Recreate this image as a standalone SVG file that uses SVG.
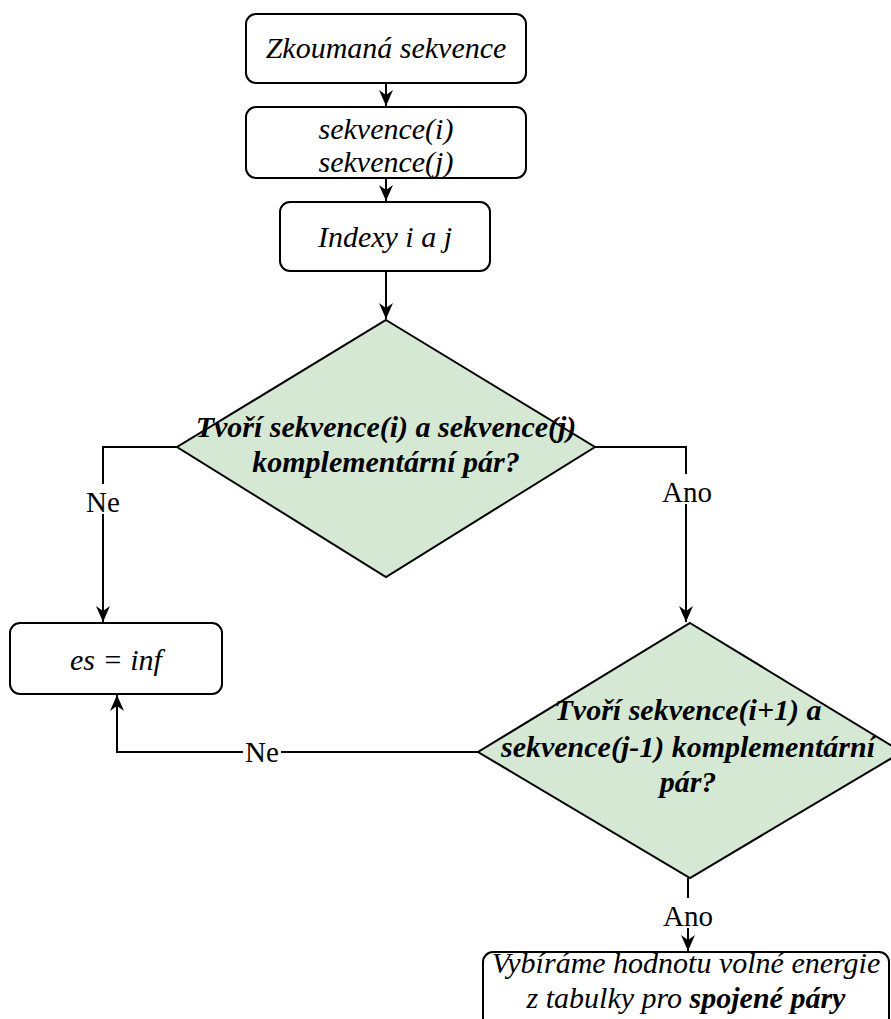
<svg xmlns="http://www.w3.org/2000/svg" width="891" height="1019" viewBox="0 0 891 1019">
<defs>
<style>
.box{fill:#fff;stroke:#000;stroke-width:2}
.dia{fill:#d5e8d4;stroke:#000;stroke-width:2}
.t{font-family:"Liberation Serif","Times New Roman",serif;font-size:30px;font-style:italic;text-anchor:middle;fill:#000}
.b{font-weight:bold}
.lbl{font-family:"Liberation Serif","Times New Roman",serif;font-size:29px;text-anchor:middle;fill:#000}
.c{fill:none;stroke:#000;stroke-width:2}
</style>
<marker id="ah" viewBox="0 0 16 14" refX="16" refY="7" markerWidth="16" markerHeight="14" markerUnits="userSpaceOnUse" orient="auto">
<path d="M0,0 L16,7 L0,14 L5,7 Z" fill="#000"/>
</marker>
</defs>
<rect width="891" height="1019" fill="#fff"/>
<g id="connectors">
<line class="c" x1="386" y1="83" x2="386" y2="106" marker-end="url(#ah)"/>
<line class="c" x1="386" y1="178" x2="386" y2="201" marker-end="url(#ah)"/>
<line class="c" x1="386" y1="271" x2="386" y2="319" marker-end="url(#ah)"/>
<polyline class="c" points="177,447 103,447 103,622" marker-end="url(#ah)"/>
<polyline class="c" points="595,447 686,447 686,622" marker-end="url(#ah)"/>
<polyline class="c" points="478,752 117,752 117,695" marker-end="url(#ah)"/>
<polyline class="c" points="688,878 688,951" marker-end="url(#ah)"/>
<rect x="84" y="484" width="38" height="30" fill="#fff"/>
<text class="lbl" x="103" y="512">Ne</text>
<rect x="662" y="474" width="50" height="30" fill="#fff"/>
<text class="lbl" x="687" y="502">Ano</text>
<rect x="243" y="738" width="38" height="30" fill="#fff"/>
<text class="lbl" x="262" y="762">Ne</text>
<rect x="662" y="898" width="52" height="30" fill="#fff"/>
<text class="lbl" x="688" y="926">Ano</text>
</g>
<g id="n1">
<rect class="box" x="246" y="14" width="280" height="69" rx="10"/>
<text class="t" x="386" y="58">Zkoumaná sekvence</text>
</g>
<g id="n2">
<rect class="box" x="246" y="107" width="280" height="71" rx="10"/>
<text class="t" x="386" y="139">sekvence(i)</text>
<text class="t" x="386" y="172">sekvence(j)</text>
</g>
<g id="n3">
<rect class="box" x="280" y="202" width="210" height="69" rx="10"/>
<text class="t" x="385" y="247">Indexy i a j</text>
</g>
<g id="d1">
<polygon class="dia" points="386,320 595,447 386,577 177,447"/>
<text class="t b" x="386" y="437">Tvoří sekvence(i) a sekvence(j)</text>
<text class="t b" x="386" y="472">komplementární pár?</text>
</g>
<g id="n4">
<rect class="box" x="10" y="623" width="212" height="71" rx="10"/>
<text class="t" x="116" y="670">es = inf</text>
</g>
<g id="d2">
<polygon class="dia" points="690,623 902,752 690,878 478,752"/>
<text class="t b" x="688" y="720">Tvoří sekvence(i+1) a</text>
<text class="t b" x="688" y="757">sekvence(j-1) komplementární</text>
<text class="t b" x="688" y="792">pár?</text>
</g>
<g id="n5">
<rect class="box" x="483" y="952" width="406" height="80" rx="10"/>
<text class="t" x="686" y="973">Vybíráme hodnotu volné energie</text>
<text class="t" x="686" y="1008">z tabulky pro <tspan class="b">spojené páry</tspan></text>
</g>
</svg>
